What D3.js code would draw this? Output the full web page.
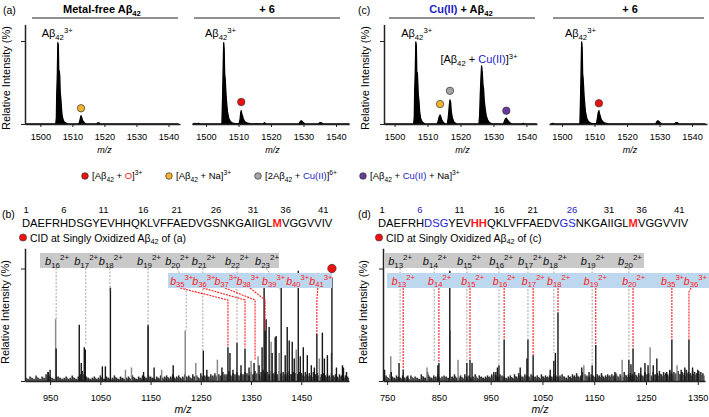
<!DOCTYPE html>
<html><head><meta charset="utf-8">
<script src="https://cdn.jsdelivr.net/npm/d3@7"></script>
<style>body{margin:0;background:#fff}svg{display:block}</style>
</head><body>
<svg id="c" width="709" height="417"></svg>
<script>
// ---------------- DATA ----------------
const topTicks = [1500, 1510, 1520, 1530, 1540];
const bTicks = [950, 1050, 1150, 1250, 1350, 1450];
const dTicks = [750, 850, 950, 1050, 1150, 1250, 1350];

// profile spectra [m/z, relative intensity %]
const profFree = [[1495.5,0],[1504.8,0],[1505.0,8],[1505.1,35],[1505.3,60],[1505.45,98],[1505.6,95],[1505.75,62],[1505.9,64],[1506.05,58],[1506.2,38],[1506.4,30],[1506.6,18],[1506.8,10],[1507.1,5],[1507.5,2],[1508,1],[1508.5,0],
 [1511.9,0],[1512.2,2],[1512.5,7],[1512.7,10],[1512.9,8],[1513.1,5],[1513.4,3],[1513.8,1],[1514.3,0],[1517.6,0],[1517.8,1.2],[1518.4,1.2],[1518.6,0],[1543,0]];
const profFree6 = [[1496,0],[1496.6,0.8],[1497,0],[1497.8,0.8],[1498.2,0],[1504.9,0],[1505.1,30],[1505.3,70],[1505.45,98],[1505.6,90],[1505.75,60],[1505.9,55],[1506.1,40],[1506.3,28],[1506.6,15],[1507,7],[1507.5,3],[1508.2,1],[1509,0.5],
 [1510.2,0.5],[1510.5,6],[1510.7,14],[1510.85,16],[1511.0,12],[1511.2,10],[1511.5,6],[1511.9,3],[1512.5,1.5],[1513.5,0.5],[1517.5,0],[1518,1.5],[1518.5,0],
 [1528.6,0],[1529.0,3],[1529.3,4],[1529.6,3],[1530.1,1],[1530.6,0],[1534.5,0],[1535,1.5],[1535.5,1.5],[1536,0],[1544,0]];
const profCu = [[1497,0],[1505.8,0],[1506.0,10],[1506.1,40],[1506.3,65],[1506.45,99],[1506.6,95],[1506.75,60],[1506.9,62],[1507.05,50],[1507.2,35],[1507.4,28],[1507.6,15],[1507.9,7],[1508.3,3],[1508.8,1],[1509.3,0],
 [1512.9,0],[1513.2,3],[1513.5,8],[1513.8,11],[1514.0,9],[1514.3,5],[1514.7,2.5],[1515.2,0.5],
 [1516.0,0],[1516.3,8],[1516.6,22],[1516.8,29],[1517.0,26],[1517.2,15],[1517.5,8],[1517.9,3],[1518.4,1],[1519,0],
 [1525.6,0],[1525.8,10],[1526.0,35],[1526.2,55],[1526.4,70],[1526.6,62],[1526.8,48],[1527.0,42],[1527.2,28],[1527.5,18],[1527.8,10],[1528.2,5],[1528.7,2],[1529.3,0.5],
 [1533.0,0],[1533.3,3],[1533.6,6],[1533.9,7],[1534.2,5],[1534.6,3],[1535.1,1],[1535.6,0],[1538.5,0],[1539,0.8],[1539.5,0],[1543,0]];
const profCu6 = [[1496.5,0],[1497.2,0.8],[1497.6,0],[1505.5,0],[1505.7,30],[1505.9,70],[1506.05,99],[1506.2,92],[1506.35,60],[1506.5,55],[1506.7,40],[1506.9,28],[1507.2,15],[1507.6,7],[1508.1,3],[1508.8,1],[1509.5,0.5],
 [1510.6,0.5],[1510.9,7],[1511.15,14],[1511.35,16],[1511.55,12],[1511.8,9],[1512.1,5],[1512.5,3],[1513.2,1],[1514,0.3],
 [1528.8,0],[1529.2,3],[1529.5,4],[1529.8,3],[1530.3,1],[1530.8,0],[1534.5,0],[1535,1.5],[1535.5,1.5],[1536,0],[1544,0]];

// markers on top spectra [m/z, height %, colour key]
const markFree = [[1512.7, 19, 'na']];
const markFree6 = [[1510.85, 26.5, 'ox']];
const markCu = [[1513.8, 24, 'na'], [1516.8, 40, 'dimer'], [1533.9, 16, 'cuna']];
const markCu6 = [[1511.35, 25, 'ox']];

// stick spectrum (b): [m/z, %]
const bBlack = [[946,8],[950,10],[962,29],[1008,50],[1012,16],[1018,30],[1020,28],[1054,13],[1060,13],[1070,83],[1136,8],[1145,50],[1157,12],[1195,14],[1255,27],[1262,10],[1292,12],[1304,30],[1308,25],[1314,10],[1322,34],[1330,14],[1338,29],[1346,12],[1356,16],[1366,14],[1372,30],[1376,83],[1378,45],[1380,55],[1386,48],[1392,25],[1398,39],[1400,40],[1410,83],[1418,23],[1422,48],[1426,36],[1432,35],[1436,20],[1444,98],[1448,22],[1454,30],[1462,23],[1470,14],[1476,12],[1481,42],[1492,43],[1496,20],[1502,23],[1511,92],[1520,12],[1532,14],[1534,12],[1540,8]];
const bGray = [[961,55],[1100,10],[1112,12],[1145,48],[1172,10],[1219,45],[1240,16],[1283,19],[1350,18],[1364,22],[1390,35],[1406,25],[1440,28],[1486,20],[1510,25]];
const bNoiseStart = 902, bNoiseStep = 4;
const bNoise = [3,2,4,3,2,5,3,2,4,3, 6,8,4,3,2,5,4,3,2,3, 4,2,3,5,3,2,4,6,9,5, 4,3,2,3,4,2,3,5,3,2, 4,3,2,3,5,3,2,4,3,2,
 3,4,2,5,3,2,4,3,5,4, 3,5,4,3,2,4,3,5,3,4, 5,3,4,6,3,4,5,3,4,6, 4,5,3,6,4,5,3,7,4,5, 5,4,6,5,7,4,6,5,8,6,
 6,9,5,7,6,8,5,7,6,8, 7,5,8,6,9,7,6,8,10,7, 8,6,9,7,8,6,9,7,8,6, 7,9,6,8,7,6,8,7,6,8, 6,7,5,8,6,7,5,6,7,5, 6,5,7,5,6,4,6,5,4,5, 4];
// stick spectrum (d)
const dBlack = [[745,10],[758,8],[773,16],[781,10],[790,5],[848,14],[850,16],[871,98],[904,16],[910,19],[914,16],[960,8],[963,12],[966,14],[976,37],[1007,12],[1020,20],[1022,37],[1032,23],[1065,10],[1072,18],[1075,25],[1080,61],[1126,12],[1140,8],[1146,14],[1153,32],[1190,8],[1217,19],[1221,15],[1225,29],[1240,12],[1248,16],[1254,14],[1264,14],[1271,20],[1290,8],[1296,10],[1300,37],[1318,10],[1325,12],[1333,37],[1340,12],[1350,10]];
const dGray = [[757,22],[827,12],[871.6,45],[887,19],[1130,14],[1204,19],[1258,30],[1310,14]];
const dNoiseStart = 744, dNoiseStep = 4;
const dNoise = [4,5,3,6,4,3,5,4,3,5, 3,4,2,5,3,4,3,2,6,4, 3,8,4,3,5,4,6,3,4,5, 4,3,5,4,6,3,4,5,3,6, 4,5,3,4,6,3,5,4,3,4,
 5,4,6,8,5,4,6,5,4,3, 4,5,3,6,4,7,5,4,6,5, 4,6,5,4,5,3,6,4,5,4, 5,4,6,5,4,5,6,4,3,5, 4,6,5,7,4,5,8,6,5,4,
 6,5,4,6,5,7,4,5,6,5, 6,5,7,4,6,5,8,5,6,7, 6,8,5,7,6,5,8,6,7,5, 8,6,7,9,6,8,7,6,9,7, 8,7,9,6,8,7,10,8,7,9, 8,7,9,8,7];

// fragment annotations: [ion number, charge, label m/z, line-start m/z, peak m/z, peak %]
const bGrayIons = [[16,'2+',940,962,962,55],[17,'2+',998,1021,1021,33],[18,'2+',1047,1069,1069,83],[19,'2+',1123,1145,1145,50],[20,'2+',1179,1203,1221,45],[21,'2+',1232,1254,1254,27],[22,'2+',1298,1322,1322,32],[23,'2+',1358,1380,1410,83]];
const bRedIons = [[35,'3+',1189,1209,1304,30],[36,'3+',1233,1254,1338,30],[37,'3+',1277,1298,1358,19],[38,'3+',1321,1348,1378,45],[39,'3+',1372,null,null,0],[40,'3+',1420,null,null,0],[41,'3+',1466,1483,1481,42]];
const dGrayIons = [[13,'2+',752,775,775,17],[14,'2+',819,841,841,17],[15,'2+',885,904,904,16],[16,'2+',947,966,966,14],[17,'2+',1003,1022,1022,37],[18,'2+',1051,1072,1072,25],[19,'2+',1124,1146,1146,14],[20,'2+',1196,1217,1217,19]];
const dRedIons = [[13,'2+',759,781,781,10],[14,'2+',829,850,850,16],[15,'2+',893,910,910,19],[16,'2+',954,976,976,37],[17,'2+',1010,1032,1032,23],[18,'2+',1059,1080,1080,61],[19,'2+',1130,1153,1153,32],[20,'2+',1204,1225,1225,29],[35,'3+',1279,1300,1300,37],[36,'3+',1323,1337,1333,37]];

const seqText = "DAEFRHDSGYEVHHQKLVFFAEDVGSNKGAIIGLMVGGVVIV";
const seqNums = [1, 6, 11, 16, 21, 26, 31, 36, 41];

// ---------------- STYLE ----------------
const FONT = '"Liberation Sans", Arial, Helvetica, sans-serif';
const BLUE = '#2222c8', RED = '#ff1a1a';
const markCol = {ox: '#ee1111', na: '#f2b430', dimer: '#a6a6a6', cuna: '#6a3a9e'};
const svg = d3.select('#c').attr('font-family', FONT);

function rich(g, x, y, parts, o) {
  const t = g.append('text').attr('x', x).attr('y', y).attr('font-size', o.size)
    .attr('text-anchor', o.anchor || 'start').attr('fill', o.fill || '#000');
  if (o.weight) t.attr('font-weight', o.weight);
  if (o.italic) t.attr('font-style', 'italic');
  let shift = 0;
  const rs = o.rs || 0.7;
  parts.forEach(p => {
    const target = p.sub ? o.size * 0.28 : p.sup ? -o.size * 0.38 : 0;
    const ts = t.append('tspan').text(p.t).attr('dy', target - shift);
    shift = target;
    if (p.sub || p.sup) ts.attr('font-size', o.size * rs);
    if (p.fill) ts.attr('fill', p.fill);
    if (p.italic) ts.attr('font-style', 'italic');
  });
  return t;
}
const N = (t, f) => ({t, fill: f});
const SB = t => ({t, sub: true});
const SP = t => ({t, sup: true});

function styleAxis(a, fs) {
  a.attr('font-family', FONT).attr('font-size', fs);
  a.select('.domain').attr('stroke', '#222').attr('stroke-width', 1.5);
  a.selectAll('.tick line').attr('stroke', '#222').attr('stroke-width', 1);
  a.selectAll('.tick text').attr('fill', '#000');
}
const fmt = d3.format('d');

// ---------------- TOP PANELS ----------------
function topPanel(c) {
  const x = d3.scaleLinear().domain(c.domain).range([c.x0, c.x1]);
  const y = d3.scaleLinear().domain([0, 100]).range([124, 41]);
  const g = svg.append('g');
  const area = d3.area().x(d => x(d[0])).y0(y(0)).y1(d => y(d[1]));
  g.append('path').attr('d', area(c.prof)).attr('fill', '#000').attr('stroke', '#000').attr('stroke-width', 1.3).attr('stroke-linejoin', 'round');
  const ax = g.append('g').attr('transform', `translate(0,${y(0)})`)
    .call(d3.axisBottom(x).tickValues(topTicks).tickFormat(fmt).tickSize(3).tickPadding(6).tickSizeOuter(0));
  styleAxis(ax, 9.2);
  if (c.yAxis) {
    const ys = y.copy().domain([0, 120]).range([y(0), y(120)]);
    const ay = g.append('g').attr('transform', `translate(${c.x0},0)`)
      .call(d3.axisLeft(ys).tickValues([0, 100]).tickSize(4).tickSizeOuter(0).tickFormat(''));
    styleAxis(ay, 9);
    g.append('text').attr('transform', `translate(${c.x0 - 15},78) rotate(-90)`).attr('text-anchor', 'middle')
      .attr('font-size', 11).text('Relative Intensity (%)');
  }
  g.append('text').attr('x', (c.x0 + c.x1) / 2 + 2).attr('y', 153).attr('text-anchor', 'middle')
    .attr('font-size', 9).attr('font-style', 'italic').text('m/z');
  rich(g, c.titleX, 13, c.title, {size: 11, weight: 'bold', anchor: 'middle'});
  g.append('line').attr('x1', c.lx0).attr('x2', c.lx1).attr('y1', 18).attr('y2', 18).attr('stroke', '#222').attr('stroke-width', 1);
  c.labels.forEach(l => rich(g, x(l.mz), y(l.h), l.parts, {size: 11}));
  c.marks.forEach(m => g.append('circle').attr('cx', x(m[0])).attr('cy', y(m[1])).attr('r', 3.7)
    .attr('fill', markCol[m[2]]).attr('stroke', '#333').attr('stroke-width', 0.7));
}
const abLabel = [N('Aβ'), SB('42'), SP('3+')];
topPanel({domain: [1495.2, 1543.6], x0: 25, x1: 180, yAxis: true, prof: profFree, marks: markFree,
  title: [N('Metal-free Aβ'), SB('42')], titleX: 102, lx0: 32, lx1: 178,
  labels: [{mz: 1500.4, h: 105, parts: abLabel}]});
topPanel({domain: [1495.7, 1544], x0: 192, x1: 349, yAxis: false, prof: profFree6, marks: markFree6,
  title: [N('+ 6')], titleX: 267, lx0: 194, lx1: 340,
  labels: [{mz: 1499.7, h: 105, parts: abLabel}]});
topPanel({domain: [1496.8, 1543.2], x0: 384, x1: 537, yAxis: true, prof: profCu, marks: markCu,
  title: [N('Cu(II)', BLUE), N(' + Aβ'), SB('42')], titleX: 461, lx0: 389, lx1: 535,
  labels: [{mz: 1502, h: 105, parts: abLabel},
           {mz: 1513.9, h: 73.5, parts: [N('[Aβ'), SB('42'), N(' + '), N('Cu(II)', BLUE), N(']'), SP('3+')]}]});
topPanel({domain: [1496, 1544.6], x0: 549, x1: 707, yAxis: false, prof: profCu6, marks: markCu6,
  title: [N('+ 6')], titleX: 630, lx0: 553, lx1: 704,
  labels: [{mz: 1500.9, h: 105, parts: abLabel}]});

svg.append('text').attr('x', 3).attr('y', 14).attr('font-size', 10.5).text('(a)');
svg.append('text').attr('x', 358).attr('y', 14).attr('font-size', 10.5).text('(c)');

// legend
const legend = [
  {x: 85, c: 'ox', parts: [N('[Aβ'), SB('42'), N(' + '), N('O', RED), N(']'), SP('3+')]},
  {x: 169, c: 'na', parts: [N('[Aβ'), SB('42'), N(' + Na]'), SP('3+')]},
  {x: 258, c: 'dimer', parts: [N('[2Aβ'), SB('42'), N(' + '), N('Cu(II)', BLUE), N(']'), SP('6+')]},
  {x: 363, c: 'cuna', parts: [N('[Aβ'), SB('42'), N(' + '), N('Cu(II)', BLUE), N(' + Na]'), SP('3+')]}
];
legend.forEach(l => {
  svg.append('circle').attr('cx', l.x).attr('cy', 176).attr('r', 3.3).attr('fill', markCol[l.c]).attr('stroke', '#333').attr('stroke-width', 0.7);
  rich(svg, l.x + 7, 179, l.parts, {size: 9.5});
});

// ---------------- SEQUENCES ----------------
function sequence(x0, colors, bold, tag, ref) {
  svg.append('text').attr('x', x0 - 20).attr('y', 218).attr('font-size', 10.5).text(tag);
  const t = svg.append('text').attr('x', x0).attr('y', 227).attr('font-size', 11.2);
  seqText.split('').forEach((ch, i) => {
    const ts = t.append('tspan').text(ch);
    if (colors[i + 1]) ts.attr('fill', colors[i + 1]);
    if (bold.includes(i + 1)) ts.attr('font-weight', 'bold');
  });
  const node = t.node();
  seqNums.forEach(n => {
    const p = node.getStartPositionOfChar(n - 1).x;
    const w = node.getExtentOfChar(n - 1).width;
    svg.append('text').attr('x', p + w / 2).attr('y', 213).attr('text-anchor', 'middle').attr('font-size', 9.5)
      .attr('fill', (colors.nums && colors.nums.includes(n)) ? BLUE : '#000').text(n);
  });
  svg.append('circle').attr('cx', x0 + 1).attr('cy', 237.5).attr('r', 3.6).attr('fill', markCol.ox).attr('stroke', '#333').attr('stroke-width', 0.6);
  rich(svg, x0 + 8, 241.5, [N('CID at Singly Oxidized Aβ'), SB('42'), N(' of ' + ref)], {size: 10.5});
}
sequence(22, {35: RED}, [35], '(b)', '(a)');
sequence(378, {7: BLUE, 8: BLUE, 9: BLUE, 13: RED, 14: RED, 25: BLUE, 26: BLUE, 35: RED, nums: [6, 26]}, [13, 14, 35], '(d)', '(c)');

// ---------------- CID PANELS ----------------
function msPanel(c) {
  const x = d3.scaleLinear().domain(c.domain).range([c.x0, c.x1]);
  const y = d3.scaleLinear().domain([0, 100]).range([381, 268.5]);
  const g = svg.append('g');
  g.append('g').selectAll('line').data(c.noise).join('line')
    .attr('x1', (d, i) => x(c.noiseStart + i * c.noiseStep)).attr('x2', (d, i) => x(c.noiseStart + i * c.noiseStep))
    .attr('y1', y(0)).attr('y2', d => y(d)).attr('stroke', '#2a2a2a').attr('stroke-width', 1.5);
  g.append('g').selectAll('line').data(c.noise).join('line')
    .attr('x1', (d, i) => x(c.noiseStart + i * c.noiseStep + 2)).attr('x2', (d, i) => x(c.noiseStart + i * c.noiseStep + 2))
    .attr('y1', y(0)).attr('y2', d => y(d * 0.7)).attr('stroke', '#444').attr('stroke-width', 1.2);
  g.append('g').selectAll('line').data(c.gray).join('line')
    .attr('x1', d => x(d[0])).attr('x2', d => x(d[0])).attr('y1', y(0)).attr('y2', d => y(d[1]))
    .attr('stroke', '#8a8a8a').attr('stroke-width', 1.5);
  g.append('g').selectAll('line').data(c.black).join('line')
    .attr('x1', d => x(d[0])).attr('x2', d => x(d[0])).attr('y1', y(0)).attr('y2', d => y(d[1]))
    .attr('stroke', '#151515').attr('stroke-width', 1.4);
  const line = d3.line();
  c.grayIons.forEach(d => {
    g.append('path').attr('d', line([[x(d[3]), 268], [x(d[4]), 291], [x(d[4]), Math.max(291, y(d[5]))]]))
      .attr('fill', 'none').attr('stroke', '#8c8c8c').attr('stroke-width', 0.8).attr('stroke-dasharray', '2,1.5');
  });
  c.redIons.forEach(d => {
    if (d[3] == null) return;
    g.append('path').attr('d', line([[x(d[3]), 288], [x(d[4]), c.bend], [x(d[4]), y(d[5])]]))
      .attr('fill', 'none').attr('stroke', RED).attr('stroke-width', 1.1).attr('stroke-dasharray', '2,1');
  });
  g.append('rect').attr('x', c.gBand[0]).attr('width', c.gBand[1] - c.gBand[0]).attr('y', 253).attr('height', 15).attr('fill', '#c9c9c9');
  g.append('rect').attr('x', c.bBand[0]).attr('width', c.bBand[1] - c.bBand[0]).attr('y', 273).attr('height', 15).attr('fill', '#bdd7ee');
  c.grayIons.forEach(d => rich(g, x(d[2]), 264.5, [{t: 'b', italic: true}, SB(d[0]), SP(d[1])], {size: 11, fill: '#111', rs: 0.72}));
  c.redIons.forEach(d => rich(g, x(d[2]), 284.5, [{t: 'b', italic: true}, SB(d[0]), SP(d[1])], {size: 10.6, fill: RED, rs: 0.72}));
  const ax = g.append('g').attr('transform', `translate(0,${y(0)})`)
    .call(d3.axisBottom(x).tickValues(c.ticks).tickFormat(fmt).tickSize(4).tickPadding(9).tickSizeOuter(0));
  styleAxis(ax, 9.2);
  const ys = y.copy().domain([0, 118]).range([y(0), y(118)]);
  const ay = g.append('g').attr('transform', `translate(${c.x0},0)`)
    .call(d3.axisLeft(ys).tickValues([0, 100]).tickSize(4).tickSizeOuter(0).tickFormat(''));
  styleAxis(ay, 9);
  g.append('text').attr('transform', `translate(${c.x0 - 16},312) rotate(-90)`).attr('text-anchor', 'middle')
    .attr('font-size', 11).text('Relative Intensity (%)');
  g.append('text').attr('x', (c.x0 + c.x1) / 2 - 4).attr('y', 413).attr('text-anchor', 'middle')
    .attr('font-size', 10.5).attr('font-style', 'italic').text('m/z');
  if (c.mark) g.append('circle').attr('cx', x(c.mark[0])).attr('cy', y(c.mark[1])).attr('r', 4.2)
    .attr('fill', markCol.ox).attr('stroke', '#333').attr('stroke-width', 0.7);
}
msPanel({domain: [900, 1545], x0: 25, x1: 349, ticks: bTicks, black: bBlack, gray: bGray,
  noise: bNoise, noiseStart: bNoiseStart, noiseStep: bNoiseStep, grayIons: bGrayIons, redIons: bRedIons,
  gBand: [40, 279], bBand: [168, 332], bend: 300, mark: [1511, 100]});
msPanel({domain: [742, 1364], x0: 383, x1: 705, ticks: dTicks, black: dBlack, gray: dGray,
  noise: dNoise, noiseStart: dNoiseStart, noiseStep: dNoiseStep, grayIons: dGrayIons, redIons: dRedIons,
  gBand: [385, 644], bBand: [387, 709], bend: 292, mark: null});
</script>
</body></html>
